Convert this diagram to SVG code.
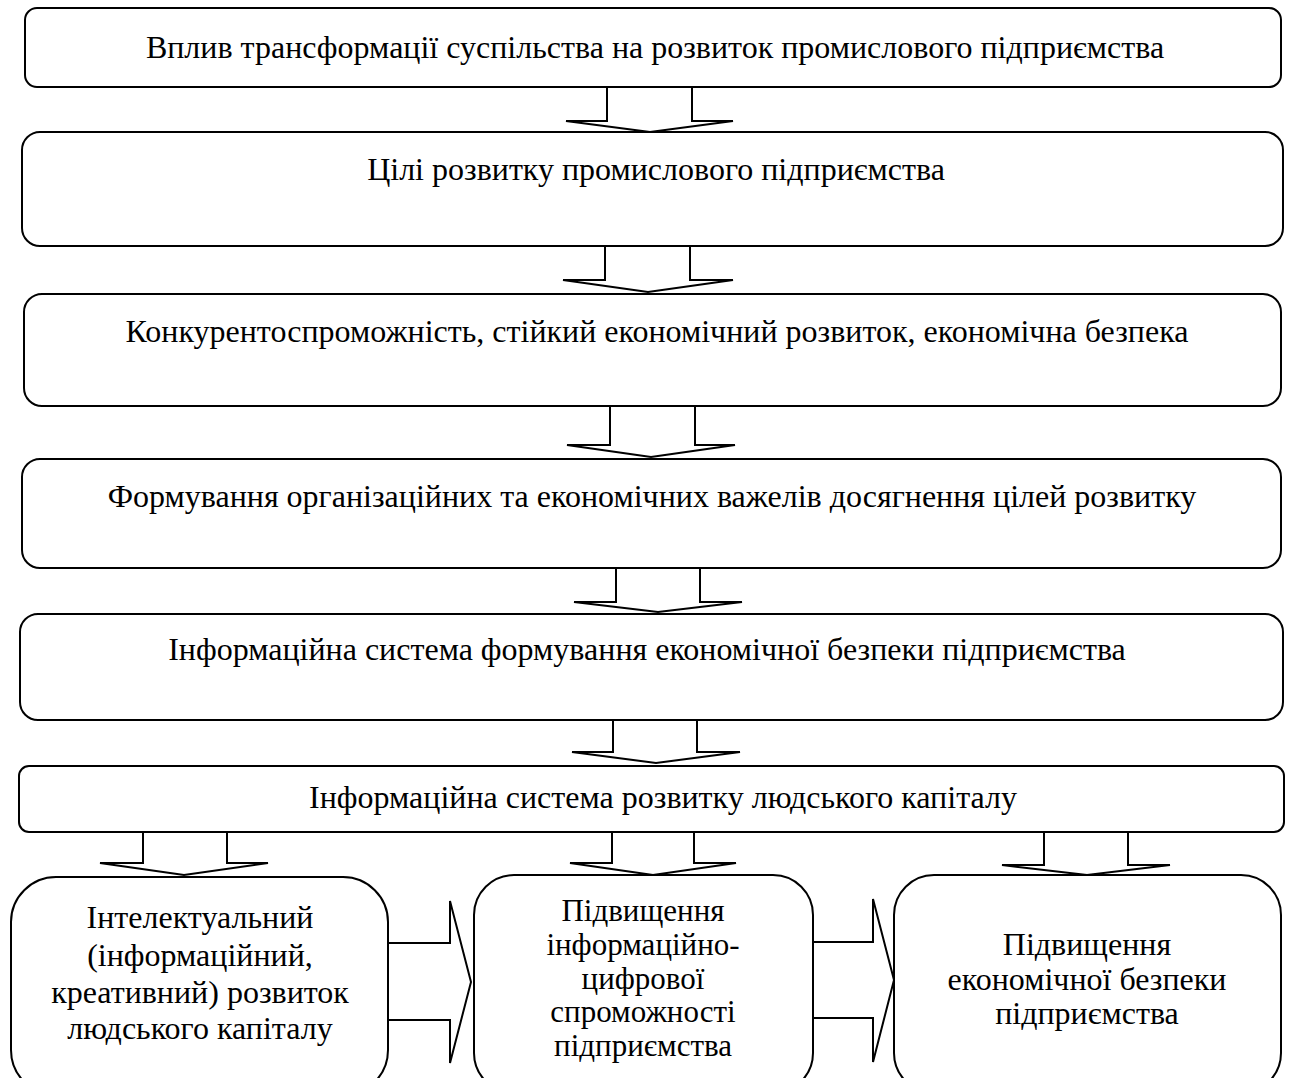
<svg xmlns="http://www.w3.org/2000/svg" width="1291" height="1078" viewBox="0 0 1291 1078">
<style>
.box{fill:#fff;stroke:#000;stroke-width:2}
.arr{fill:none;stroke:#000;stroke-width:2;stroke-linejoin:miter}
text{font-family:'Liberation Serif','DejaVu Serif',serif;fill:#000;text-anchor:middle;font-size:32px}
.s{font-size:31px}
</style>
<rect width="1291" height="1078" fill="#fff"/>
<g id="n1"><rect class="box" x="25" y="8" width="1256" height="79" rx="12"/><text x="655" y="58">Вплив трансформації суспільства на розвиток промислового підприємства</text></g>
<g id="n2"><rect class="box" x="22" y="132" width="1261" height="114" rx="18"/><text x="656" y="180">Цілі розвитку промислового підприємства</text></g>
<g id="n3"><rect class="box" x="24" y="294" width="1257" height="112" rx="18"/><text x="657" y="342">Конкурентоспроможність, стійкий економічний розвиток, економічна безпека</text></g>
<g id="n4"><rect class="box" x="22" y="459" width="1259" height="109" rx="18"/><text x="652" y="507">Формування організаційних та економічних важелів досягнення цілей розвитку</text></g>
<g id="n5"><rect class="box" x="20" y="614" width="1263" height="106" rx="18"/><text x="647" y="660">Інформаційна система формування економічної безпеки підприємства</text></g>
<g id="n6"><rect class="box" x="19" y="766" width="1265" height="66" rx="10"/><text x="663" y="808">Інформаційна система розвитку людського капіталу</text></g>
<g id="n7"><rect class="box" x="11" y="877" width="377" height="218" rx="45"/>
<text x="200" y="928">Інтелектуальний</text>
<text x="200" y="966">(інформаційний,</text>
<text x="200" y="1003">креативний) розвиток</text>
<text x="200" y="1039">людського капіталу</text></g>
<g id="n8"><rect class="box" x="474" y="875" width="339" height="218" rx="40"/>
<text class="s" x="643" y="921">Підвищення</text>
<text class="s" x="643" y="955">інформаційно-</text>
<text class="s" x="643" y="989">цифрової</text>
<text class="s" x="643" y="1022">спроможності</text>
<text class="s" x="643" y="1056">підприємства</text></g>
<g id="n9"><rect class="box" x="894" y="875" width="387" height="218" rx="40"/>
<text x="1087" y="955">Підвищення</text>
<text x="1087" y="990">економічної безпеки</text>
<text x="1087" y="1024">підприємства</text></g>
<g id="connectors">
<path class="arr" d="M607,87 V121 H566 L650,132 L733,121 H692 V87"/>
<path class="arr" d="M605,246 V280 H563 L648,292 L733,280 H690 V246"/>
<path class="arr" d="M610,406 V445 H567 L651,457 L735,445 H695 V406"/>
<path class="arr" d="M616,568 V602 H574 L658,612 L742,602 H700 V568"/>
<path class="arr" d="M613,720 V752 H572 L656,763 L740,752 H697 V720"/>
<path class="arr" d="M143,832 V863 H100 L184,875 L268,863 H227 V832"/>
<path class="arr" d="M612,832 V863 H570 L653,875 L736,863 H694 V832"/>
<path class="arr" d="M1044,832 V865 H1002 L1087,875 L1170,865 H1128 V832"/>
<path class="arr" d="M388,943 H450 V901 L471,982 L450,1063 V1020 H388 Z"/>
<path class="arr" d="M813,942 H873 V899 L894,980 L873,1062 V1018 H813 Z"/>
</g>
</svg>
